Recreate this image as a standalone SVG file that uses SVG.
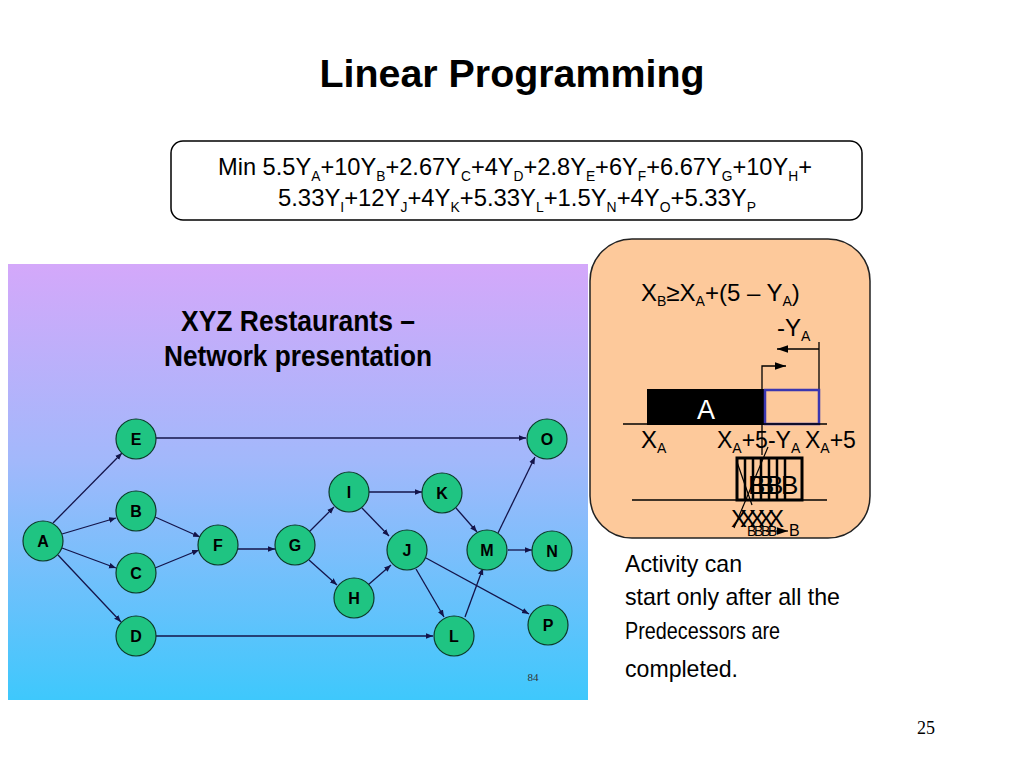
<svg xmlns="http://www.w3.org/2000/svg" width="1024" height="768" viewBox="0 0 1024 768">
<defs>
<linearGradient id="bg" x1="0" y1="0" x2="0" y2="1">
<stop offset="0" stop-color="#d4a8fa"/>
<stop offset="0.45" stop-color="#a2b8fb"/>
<stop offset="1" stop-color="#3ec8fc"/>
</linearGradient>
<marker id="arr" viewBox="0 0 10 10" refX="10" refY="5" markerWidth="7" markerHeight="7" orient="auto" markerUnits="userSpaceOnUse">
<path d="M0,1 L10,5 L0,9 z" fill="#14144a"/>
</marker>
<marker id="arrB" viewBox="0 0 10 10" refX="10" refY="5" markerWidth="11" markerHeight="11" orient="auto" markerUnits="userSpaceOnUse">
<path d="M0,1.5 L10,5 L0,8.5 z" fill="#000"/>
</marker>
</defs>
<style>
.node circle{fill:#1fc482;stroke:#0d3a2a;stroke-width:1.2}
.node text{font-family:"Liberation Sans",Arial,sans-serif;font-weight:bold;font-size:16px;text-anchor:middle;fill:#000}
.edge{stroke:#14144a;stroke-width:1.3;fill:none;marker-end:url(#arr)}
.t{font-family:"Liberation Sans",Arial,sans-serif;fill:#000}
.sub{font-size:14px}
</style>
<rect width="1024" height="768" fill="#fff"/>
<text class="t" x="512" y="87" font-size="38" font-weight="bold" text-anchor="middle" textLength="385" lengthAdjust="spacingAndGlyphs">Linear Programming</text>
<g id="objective">
<rect x="171" y="141" width="691" height="79" rx="12" fill="#fff" stroke="#000" stroke-width="1.5"/>
<text class="t" x="218" y="175" font-size="24" textLength="594" lengthAdjust="spacingAndGlyphs">Min 5.5Y<tspan class="sub" dy="6">A</tspan><tspan dy="-6">+10Y</tspan><tspan class="sub" dy="6">B</tspan><tspan dy="-6">+2.67Y</tspan><tspan class="sub" dy="6">C</tspan><tspan dy="-6">+4Y</tspan><tspan class="sub" dy="6">D</tspan><tspan dy="-6">+2.8Y</tspan><tspan class="sub" dy="6">E</tspan><tspan dy="-6">+6Y</tspan><tspan class="sub" dy="6">F</tspan><tspan dy="-6">+6.67Y</tspan><tspan class="sub" dy="6">G</tspan><tspan dy="-6">+10Y</tspan><tspan class="sub" dy="6">H</tspan><tspan dy="-6">+</tspan></text>
<text class="t" x="278" y="206" font-size="24" textLength="478" lengthAdjust="spacingAndGlyphs">5.33Y<tspan class="sub" dy="6">I</tspan><tspan dy="-6">+12Y</tspan><tspan class="sub" dy="6">J</tspan><tspan dy="-6">+4Y</tspan><tspan class="sub" dy="6">K</tspan><tspan dy="-6">+5.33Y</tspan><tspan class="sub" dy="6">L</tspan><tspan dy="-6">+1.5Y</tspan><tspan class="sub" dy="6">N</tspan><tspan dy="-6">+4Y</tspan><tspan class="sub" dy="6">O</tspan><tspan dy="-6">+5.33Y</tspan><tspan class="sub" dy="6">P</tspan></text>
</g>
<g id="network-panel">
<rect x="8" y="264" width="580" height="436" fill="url(#bg)"/>
<text class="t" x="298" y="331" font-size="29" font-weight="bold" text-anchor="middle" textLength="234" lengthAdjust="spacingAndGlyphs">XYZ Restaurants –</text>
<text class="t" x="298" y="366" font-size="29" font-weight="bold" text-anchor="middle" textLength="268" lengthAdjust="spacingAndGlyphs">Network presentation</text>
<text x="533" y="681" font-family="Liberation Serif,serif" font-size="11" text-anchor="middle" fill="#333">84</text>
</g>
<g id="connectors">
<line class="edge" x1="53" y1="523" x2="122" y2="453"/>
<line class="edge" x1="62" y1="534" x2="116" y2="518"/>
<line class="edge" x1="62" y1="548" x2="116" y2="568"/>
<line class="edge" x1="58" y1="555" x2="121" y2="622"/>
<line class="edge" x1="155" y1="517" x2="200" y2="537"/>
<line class="edge" x1="155" y1="568" x2="199" y2="550"/>
<line class="edge" x1="238" y1="549" x2="275" y2="549"/>
<line class="edge" x1="309" y1="532" x2="334" y2="507"/>
<line class="edge" x1="309" y1="560" x2="337" y2="585"/>
<line class="edge" x1="369" y1="492" x2="422" y2="492"/>
<line class="edge" x1="362" y1="508" x2="389" y2="536"/>
<line class="edge" x1="368" y1="585" x2="391" y2="565"/>
<line class="edge" x1="456" y1="508" x2="477" y2="532"/>
<line class="edge" x1="416" y1="569" x2="444" y2="617"/>
<line class="edge" x1="426" y1="558" x2="529" y2="614"/>
<line class="edge" x1="465" y1="617" x2="483" y2="568"/>
<line class="edge" x1="498" y1="533" x2="535" y2="457"/>
<line class="edge" x1="508" y1="550" x2="532" y2="550"/>
<line class="edge" x1="156" y1="438" x2="526" y2="438"/>
<line class="edge" x1="156" y1="636" x2="433" y2="636"/>
</g>
<g id="node-A" class="node"><circle cx="43" cy="541" r="20"/><text x="43" y="547">A</text></g>
<g id="node-E" class="node"><circle cx="136" cy="439" r="20"/><text x="136" y="445">E</text></g>
<g id="node-B" class="node"><circle cx="136" cy="511" r="20"/><text x="136" y="517">B</text></g>
<g id="node-C" class="node"><circle cx="136" cy="573" r="20"/><text x="136" y="579">C</text></g>
<g id="node-D" class="node"><circle cx="136" cy="636" r="20"/><text x="136" y="642">D</text></g>
<g id="node-F" class="node"><circle cx="218" cy="545" r="20"/><text x="218" y="551">F</text></g>
<g id="node-G" class="node"><circle cx="295" cy="545" r="20"/><text x="295" y="551">G</text></g>
<g id="node-I" class="node"><circle cx="349" cy="492" r="20"/><text x="349" y="498">I</text></g>
<g id="node-K" class="node"><circle cx="442" cy="493" r="20"/><text x="442" y="499">K</text></g>
<g id="node-J" class="node"><circle cx="407" cy="550" r="20"/><text x="407" y="556">J</text></g>
<g id="node-H" class="node"><circle cx="354" cy="598" r="20"/><text x="354" y="604">H</text></g>
<g id="node-M" class="node"><circle cx="487" cy="550" r="20"/><text x="487" y="556">M</text></g>
<g id="node-N" class="node"><circle cx="552" cy="551" r="20"/><text x="552" y="557">N</text></g>
<g id="node-O" class="node"><circle cx="547" cy="439" r="20"/><text x="547" y="445">O</text></g>
<g id="node-P" class="node"><circle cx="548" cy="625" r="20"/><text x="548" y="631">P</text></g>
<g id="node-L" class="node"><circle cx="454" cy="636" r="20"/><text x="454" y="642">L</text></g>
<g id="constraint-panel">
<rect x="590" y="239" width="280" height="299" rx="42" fill="#fdc99b" stroke="#222" stroke-width="1.5"/>
<text class="t" x="641" y="301" font-size="24">X<tspan class="sub" dy="5">B</tspan><tspan dy="-5">≥X</tspan><tspan class="sub" dy="5">A</tspan><tspan dy="-5">+(5 – Y</tspan><tspan class="sub" dy="5">A</tspan><tspan dy="-5">)</tspan></text>
<text class="t" x="777" y="336" font-size="24">-Y<tspan class="sub" dy="5">A</tspan></text>
<line x1="819" y1="342" x2="819" y2="424" stroke="#000" stroke-width="1.3"/>
<line x1="819" y1="349" x2="777" y2="349" stroke="#000" stroke-width="1.3" marker-end="url(#arrB)"/>
<polyline points="762,455 762,366 786,366" fill="none" stroke="#000" stroke-width="1.3" marker-end="url(#arrB)"/>
<rect x="647" y="389" width="118" height="36" fill="#000"/>
<rect x="765" y="390" width="54" height="34" fill="none" stroke="#3a36b0" stroke-width="2.5"/>
<text class="t" x="706" y="419" font-size="27" text-anchor="middle" style="fill:#fff">A</text>
<line x1="623" y1="424" x2="827" y2="424" stroke="#000" stroke-width="1.3"/>
<text class="t" x="641" y="448" font-size="24">X<tspan class="sub" dy="5">A</tspan></text>
<text class="t" x="717" y="448" font-size="23">X<tspan class="sub" dy="5">A</tspan><tspan dy="-5">+5-Y</tspan><tspan class="sub" dy="5">A</tspan></text>
<text class="t" x="805" y="448" font-size="23">X<tspan class="sub" dy="5">A</tspan><tspan dy="-5">+5</tspan></text>
<line x1="632" y1="500" x2="827" y2="500" stroke="#000" stroke-width="1.3"/>
<text class="t" x="748" y="494" font-size="26">B</text>
<text class="t" x="757" y="494" font-size="26">B</text>
<text class="t" x="766" y="494" font-size="26">B</text>
<text class="t" x="781" y="494" font-size="26">B</text>
<rect x="737" y="458" width="65" height="42" fill="none" stroke="#000" stroke-width="3"/>
<g stroke="#000" stroke-width="2.5">
<line x1="745" y1="458" x2="745" y2="500"/>
<line x1="753" y1="458" x2="753" y2="500"/>
<line x1="761" y1="458" x2="761" y2="500"/>
<line x1="769" y1="458" x2="769" y2="500"/>
<line x1="777" y1="458" x2="777" y2="500"/>
<line x1="785" y1="458" x2="785" y2="500"/>
</g>
<line x1="768" y1="447" x2="734" y2="528" stroke="#000" stroke-width="1.2"/>
<line x1="737" y1="462" x2="752" y2="505" stroke="#000" stroke-width="1.2"/>
<text class="t" x="731" y="527" font-size="24">X</text>
<text class="t" x="740" y="527" font-size="24">X</text>
<text class="t" x="749" y="527" font-size="24">X</text>
<text class="t" x="758" y="527" font-size="24">X</text>
<text class="t" x="768" y="527" font-size="24">X</text>
<text class="t" x="747" y="536" font-size="14">B</text>
<text class="t" x="754" y="536" font-size="14">B</text>
<text class="t" x="761" y="536" font-size="14">B</text>
<text class="t" x="768" y="536" font-size="14">B</text>
<line x1="766" y1="531" x2="788" y2="531" stroke="#000" stroke-width="1.2" marker-end="url(#arrB)"/>
<text class="t" x="789" y="536" font-size="16">B</text>
</g>
<g id="note">
<text class="t" x="625" y="572" font-size="24" textLength="117" lengthAdjust="spacingAndGlyphs">Activity can</text>
<text class="t" x="625" y="605" font-size="24" textLength="215" lengthAdjust="spacingAndGlyphs">start only after all the</text>
<text class="t" x="625" y="639" font-size="24" textLength="155" lengthAdjust="spacingAndGlyphs">Predecessors are</text>
<text class="t" x="625" y="677" font-size="24" textLength="113" lengthAdjust="spacingAndGlyphs">completed.</text>
</g>
<text x="926" y="734" font-family="Liberation Serif,serif" font-size="18" text-anchor="middle" fill="#000">25</text>
</svg>
